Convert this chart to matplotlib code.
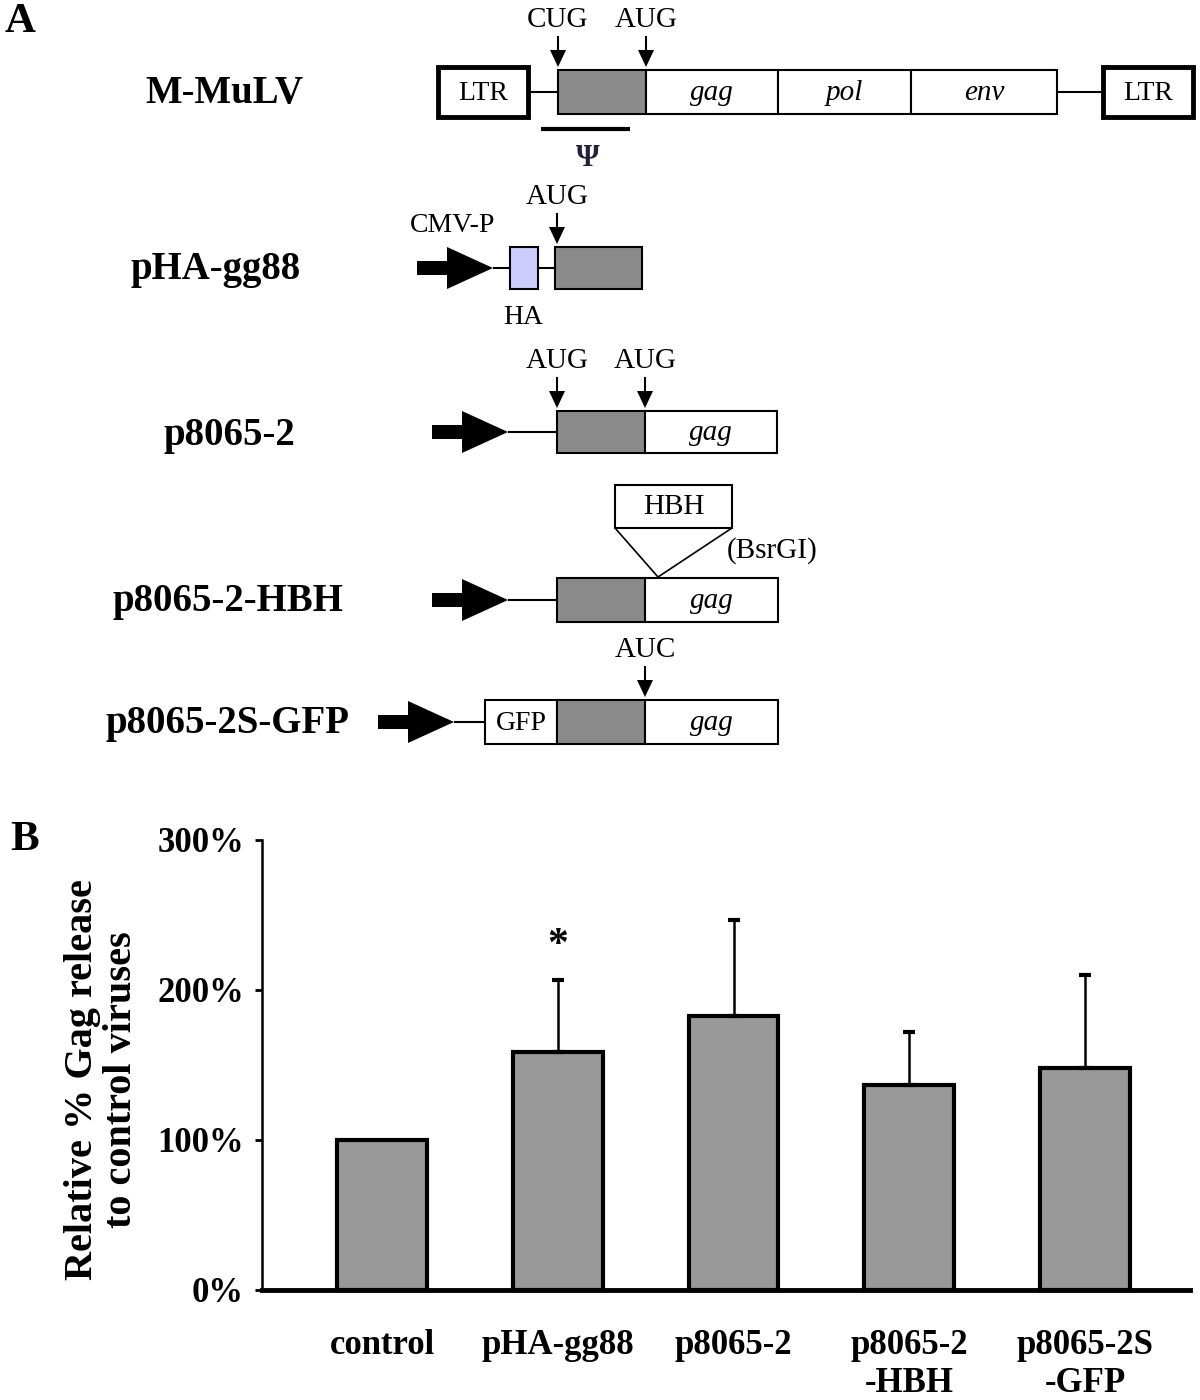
import matplotlib.pyplot as plt
from matplotlib.patches import Rectangle, Polygon

plt.rcParams['font.family'] = ['Liberation Serif', 'DejaVu Serif']

# panel B values
constructs = ["control", "pHA-gg88", "p8065-2", "p8065-2\n-HBH", "p8065-2S\n-GFP"]
release_pct = [100, 159, 183, 137, 148]
release_err = [0, 48, 64, 35, 62]
significant = [False, True, False, False, False]
y_ticks = [0, 100, 200, 300]
y_tick_labels = ["0%", "100%", "200%", "300%"]

# panel A construct names
row_names = ["M-MuLV", "pHA-gg88", "p8065-2", "p8065-2-HBH", "p8065-2S-GFP"]

GRAY = "#8a8a8a"


def box(ax, x0, x1, y0, y1, fc="white", lw=1.5, text=None, style="normal", size=21):
    ax.add_patch(Rectangle((x0, y0), x1 - x0, y1 - y0, facecolor=fc,
                           edgecolor="black", linewidth=lw))
    if text:
        ax.text((x0 + x1) / 2, (y0 + y1) / 2 + 1, text, ha="center", va="center",
                fontsize=size, style=style)


def line(ax, x0, x1, y, lw=1.5):
    ax.plot([x0, x1], [y, y], color="black", linewidth=lw, solid_capstyle="butt")


def promoter(ax, x_tip, y):
    ax.add_patch(Rectangle((x_tip - 76, y - 7), 32, 14, facecolor="black", edgecolor="none"))
    ax.add_patch(Polygon([(x_tip - 46, y - 21), (x_tip - 46, y + 21), (x_tip, y)],
                         closed=True, facecolor="black", edgecolor="none"))


def codon(ax, x, box_top, label):
    ax.plot([x, x], [box_top - 33, box_top - 18], color="black", linewidth=1.5)
    ax.add_patch(Polygon([(x - 8, box_top - 20), (x + 8, box_top - 20), (x, box_top - 3)],
                         closed=True, facecolor="black", edgecolor="none"))
    ax.text(x, box_top - 50, label, ha="center", va="center", fontsize=21)


def draw_panel_a(fig):
    ax = fig.add_axes([0, 0, 1, 1])
    ax.set_xlim(0, 1200)
    ax.set_ylim(1400, 0)
    ax.axis("off")

    ax.text(5, 22, "A", fontsize=31, fontweight="bold", va="center")

    label_pos = [(224, 93), (216, 270), (229, 436), (228, 602), (228, 724)]
    for name, (x, y) in zip(row_names, label_pos):
        ax.text(x, y, name, ha="center", va="center", fontsize=28, fontweight="bold")

    # M-MuLV
    box(ax, 438, 528, 67, 117, lw=3.5, text="LTR", size=20)
    line(ax, 528, 558, 92)
    box(ax, 558, 646, 70, 114, fc=GRAY)
    box(ax, 646, 778, 70, 114, text="gag", style="italic")
    box(ax, 778, 911, 70, 114, text="pol", style="italic")
    box(ax, 911, 1057, 70, 114, text="env", style="italic")
    line(ax, 1057, 1103, 92)
    box(ax, 1103, 1193, 67, 117, lw=3.5, text="LTR", size=20)
    codon(ax, 558, 70, "CUG")
    codon(ax, 646, 70, "AUG")
    line(ax, 541, 630, 129, lw=3)
    ax.text(588, 158, "Ψ", ha="center", va="center", fontsize=22,
            fontweight="bold", color="#22223a")

    # pHA-gg88
    ax.text(453, 226, "CMV-P", ha="center", va="center", fontsize=20)
    promoter(ax, 493, 268)
    line(ax, 493, 510, 268)
    box(ax, 510, 538, 247, 289, fc="#ccccff")
    line(ax, 538, 555, 268)
    box(ax, 555, 642, 247, 289, fc=GRAY)
    codon(ax, 557, 247, "AUG")
    ax.text(523, 317, "HA", ha="center", va="center", fontsize=20)

    # p8065-2
    promoter(ax, 508, 432)
    line(ax, 508, 557, 432)
    box(ax, 557, 645, 411, 453, fc=GRAY)
    box(ax, 645, 777, 411, 453, text="gag", style="italic")
    codon(ax, 557, 411, "AUG")
    codon(ax, 645, 411, "AUG")

    # p8065-2-HBH
    promoter(ax, 508, 600)
    line(ax, 508, 557, 600)
    box(ax, 557, 645, 578, 622, fc=GRAY)
    box(ax, 645, 778, 578, 622, text="gag", style="italic")
    ax.plot([615, 658, 732], [528, 577, 528], color="black", linewidth=1.2)
    box(ax, 615, 732, 485, 528, text="HBH", size=21)
    ax.text(772, 551, "(BsrGI)", ha="center", va="center", fontsize=21)

    # p8065-2S-GFP
    promoter(ax, 454, 722)
    line(ax, 454, 485, 722)
    box(ax, 485, 557, 700, 744, text="GFP", size=20)
    box(ax, 557, 645, 700, 744, fc=GRAY)
    box(ax, 645, 778, 700, 744, text="gag", style="italic")
    codon(ax, 645, 700, "AUC")


def draw_panel_b(fig):
    ax = fig.add_axes([262 / 1200, 110 / 1400, 928 / 1200, 450 / 1400])
    xs = list(range(len(constructs)))
    ax.bar(xs, release_pct, width=0.51, color="#999999", edgecolor="black", linewidth=3)
    for x, val, err, star in zip(xs, release_pct, release_err, significant):
        if err > 0:
            ax.errorbar(x, val, yerr=[[0], [err]], fmt="none", ecolor="black",
                        elinewidth=1.8, capsize=4.5, capthick=3)
        if star:
            ax.text(x, val + err + 22, "*", ha="center", va="center",
                    fontsize=30, fontweight="bold")

    ax.set_xlim(-0.683, 4.597)
    ax.set_ylim(0, 300)
    ax.set_yticks(y_ticks)
    ax.set_yticklabels(y_tick_labels, fontsize=25, fontweight="bold")
    ax.set_xticks(xs)
    ax.set_xticklabels(constructs, fontsize=25, fontweight="bold", linespacing=1.2)
    ax.tick_params(axis="x", length=0, pad=28)
    ax.tick_params(axis="y", direction="out", length=5, width=2, pad=8)
    for side in ["top", "right"]:
        ax.spines[side].set_visible(False)
    ax.spines["left"].set_linewidth(1.8)
    ax.spines["bottom"].set_linewidth(3.5)

    fig.text(102 / 1200, 1 - 1080 / 1400, "Relative % Gag release\nto control viruses",
             rotation=90, ha="center", va="center", fontsize=29, fontweight="bold",
             linespacing=1.05)
    fig.text(10 / 1200, 1 - 840 / 1400, "B", fontsize=31, fontweight="bold", va="center")


fig = plt.figure(figsize=(12, 14), dpi=100)
draw_panel_a(fig)
draw_panel_b(fig)
fig.savefig("out.png", dpi=100)
